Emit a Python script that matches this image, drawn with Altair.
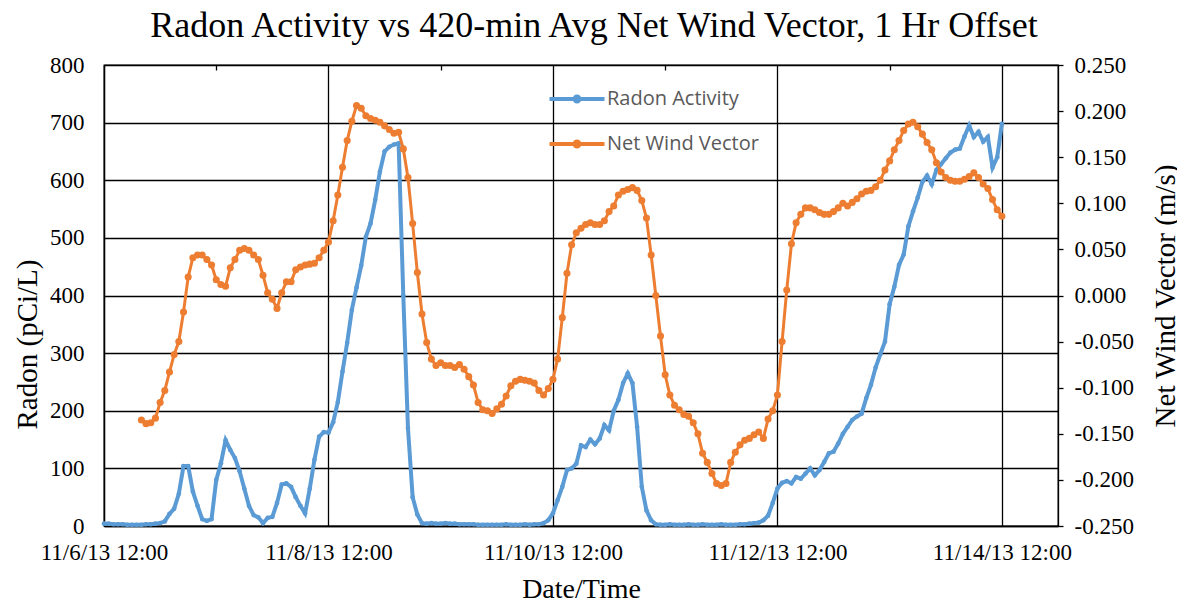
import altair as alt
import pandas as pd

# Hourly radon activity (pCi/L) starting 11/6/13 12:00
radon = [4, 4, 3, 3, 3, 2, 2, 2, 2, 3, 3, 4, 5,
         8, 21, 30, 56, 104, 104, 60, 35, 12, 9, 12, 80,
         109, 149, 132, 118, 95, 65, 35, 19, 15, 5, 14, 16,
         40, 72, 74, 68, 50, 35, 22, 65, 115, 155, 163, 162,
         180, 215, 268, 318, 375, 414, 452, 502, 525, 566, 615, 650,
         658, 662, 664, 400, 170, 50, 20, 5, 4, 5, 4, 4,
         5, 4, 4, 3, 3, 3, 3, 2, 2, 2, 2, 2,
         2, 3, 2, 2, 2, 3, 2, 3, 3, 5, 10, 22,
         45, 68, 97, 100, 108, 140, 137, 150, 142, 152, 175, 166,
         200, 219, 248, 265, 248, 172, 68, 27, 10, 3, 2, 2,
         3, 2, 2, 2, 3, 2, 2, 3, 2, 2, 2, 3,
         2, 2, 2, 3, 3, 4, 5, 6, 10, 18, 40, 65,
         75, 78, 74, 85, 82, 91, 100, 88, 97, 111, 126, 129,
         143, 160, 172, 184, 190, 195, 222, 245, 275, 298, 320, 385,
         415, 453, 471, 520, 546, 570, 597, 608, 593, 618, 628, 638,
         648, 653, 655, 676, 695, 675, 684, 667, 675, 622, 640, 698]

# Hourly 420-min avg net wind vector (m/s) starting 11/6/13 20:00
wind = [-0.135, -0.139, -0.138, -0.133, -0.116, -0.103, -0.083, -0.064, -0.050, -0.018, 0.020, 0.041,
        0.044, 0.044, 0.039, 0.033, 0.017, 0.012, 0.010, 0.030, 0.039, 0.049, 0.051, 0.049,
        0.044, 0.039, 0.022, 0.003, -0.004, -0.014, 0.003, 0.015, 0.015, 0.028, 0.031, 0.033,
        0.034, 0.035, 0.041, 0.049, 0.058, 0.081, 0.109, 0.139, 0.168, 0.189, 0.206, 0.203,
        0.195, 0.192, 0.190, 0.188, 0.184, 0.180, 0.176, 0.177, 0.159, 0.128, 0.078, 0.025,
        -0.020, -0.051, -0.069, -0.076, -0.073, -0.076, -0.076, -0.078, -0.075, -0.080, -0.088, -0.097,
        -0.116, -0.124, -0.125, -0.128, -0.123, -0.118, -0.109, -0.098, -0.093, -0.091, -0.092, -0.093,
        -0.095, -0.103, -0.108, -0.101, -0.091, -0.069, -0.024, 0.024, 0.055, 0.068, 0.073, 0.077,
        0.079, 0.077, 0.077, 0.081, 0.091, 0.097, 0.109, 0.113, 0.115, 0.117, 0.114, 0.103,
        0.084, 0.044, 0.000, -0.044, -0.086, -0.108, -0.119, -0.124, -0.129, -0.131, -0.138, -0.150,
        -0.171, -0.181, -0.193, -0.204, -0.206, -0.204, -0.181, -0.170, -0.162, -0.157, -0.155, -0.151,
        -0.148, -0.155, -0.134, -0.125, -0.108, -0.050, 0.006, 0.056, 0.079, 0.088, 0.095, 0.095,
        0.093, 0.090, 0.088, 0.088, 0.091, 0.095, 0.100, 0.097, 0.101, 0.105, 0.110, 0.113,
        0.114, 0.118, 0.125, 0.136, 0.146, 0.158, 0.168, 0.179, 0.186, 0.188, 0.183, 0.175,
        0.166, 0.158, 0.144, 0.134, 0.128, 0.125, 0.124, 0.124, 0.126, 0.129, 0.133, 0.128,
        0.121, 0.116, 0.104, 0.093, 0.086]

series_names = ["Radon Activity", "Net Wind Vector"]
series_colors = ["#5B9BD5", "#ED7D31"]
radon_ticks = [0, 100, 200, 300, 400, 500, 600, 700, 800]
wind_ticks = [-0.25, -0.2, -0.15, -0.1, -0.05, 0.0, 0.05, 0.1, 0.15, 0.2, 0.25]
major_days = [6, 8, 10, 12, 14]
minor_days = [7, 9, 11, 13]

start = pd.Timestamp("2013-11-06 12:00")
df_r = pd.DataFrame({"time": pd.date_range(start, periods=len(radon), freq="h"),
                     "radon": radon, "series": series_names[0]})
df_w = pd.DataFrame({"time": pd.date_range(start + pd.Timedelta(hours=8), periods=len(wind), freq="h"),
                     "wind": wind, "series": series_names[1]})

SERIF = "Liberation Serif"
SANS = "Open Sans"

major_ticks = [alt.DateTime(year=2013, month=11, date=d, hours=12) for d in major_days]
minor_ticks = [alt.DateTime(year=2013, month=11, date=d, hours=12) for d in minor_days]
xscale = alt.Scale(domain=[alt.DateTime(year=2013, month=11, date=6, hours=12),
                           alt.DateTime(year=2013, month=11, date=15, hours=0)], nice=False)
cscale = alt.Scale(domain=series_names, range=series_colors)

legend_path = "M-2.5,0H2.5M0.22,0A0.22,0.22,0,1,1,-0.22,0A0.22,0.22,0,1,1,0.22,0"

radon_layer = alt.Chart(df_r).mark_line(
    strokeWidth=4, point=alt.OverlayMarkDef(size=22, filled=True, opacity=1)
).encode(
    x=alt.X("time:T", scale=xscale, axis=alt.Axis(
        values=major_ticks, format="%-m/%-d/%y %H:%M", title="Date/Time",
        grid=True, gridColor="black", gridWidth=1.3, gridOpacity=1,
        ticks=False, domain=True, domainColor="black", domainWidth=1.3,
        labelFont=SERIF, labelFontSize=23, labelColor="black", labelPadding=15,
        labelOverlap=False, labelFlush=False,
        titleFont=SERIF, titleFontSize=28, titleFontWeight="normal", titleColor="black",
        titleY=63, titleBaseline="middle")),
    y=alt.Y("radon:Q", scale=alt.Scale(domain=[0, 800], nice=False, zero=False), axis=alt.Axis(
        values=radon_ticks, title="Radon (pCi/L)",
        grid=True, gridColor="black", gridWidth=1.3, gridOpacity=1,
        ticks=False, domain=True, domainColor="black", domainWidth=1.3,
        labelFont=SERIF, labelFontSize=23, labelColor="black", labelPadding=20,
        titleFont=SERIF, titleFontSize=29, titleFontWeight="normal", titleColor="black",
        titleX=-77, titleY=279, titleBaseline="middle", titleAngle=270)),
    color=alt.Color("series:N", scale=cscale, legend=alt.Legend(
        title=None, orient="none", legendX=460, legendY=21, direction="vertical",
        symbolType=legend_path, symbolSize=484, symbolStrokeWidth=4,
        labelFont=SANS, labelFontSize=20, labelColor="#595959", labelOffset=17,
        rowPadding=21, padding=0)),
)

wind_layer = alt.Chart(df_w).mark_line(
    strokeWidth=3, point=alt.OverlayMarkDef(size=50, filled=True, opacity=1)
).encode(
    x=alt.X("time:T", scale=xscale, axis=alt.Axis(
        values=minor_ticks, labels=False, title=None, grid=False, domain=False,
        ticks=True, tickSize=5, tickColor="black", tickWidth=1.3, offset=-5)),
    y=alt.Y("wind:Q", scale=alt.Scale(domain=[-0.25, 0.25], nice=False, zero=False), axis=alt.Axis(
        orient="right", values=wind_ticks,
        labelExpr="(datum.value < -0.0001 ? '-' : '') + format(abs(datum.value), '.3f')",
        grid=False, ticks=True, tickSize=5, tickColor="black", tickWidth=1.3,
        domain=True, domainColor="black", domainWidth=1.3,
        labelFont=SERIF, labelFontSize=23, labelColor="black", labelAlign="left", labelPadding=11,
        title="Net Wind Vector (m/s)",
        titleFont=SERIF, titleFontSize=29, titleFontWeight="normal", titleColor="black",
        titleX=107, titleBaseline="middle", titleAngle=270)),
    color=alt.Color("series:N", scale=cscale),
)

chart = alt.layer(radon_layer, wind_layer).resolve_scale(
    y="independent"
).resolve_axis(
    x="independent"
).properties(
    width=954, height=461,
    autosize=alt.AutoSizeParams(type="none"),
    padding={"left": 96, "top": 57, "right": 119, "bottom": 72},
    title=alt.TitleParams(
        "Radon Activity vs 420-min Avg Net Wind Vector, 1 Hr Offset",
        font=SERIF, fontSize=36, fontWeight="normal", color="black",
        anchor="middle", dx=13, offset=9),
).configure_view(stroke="black", strokeWidth=1.3)

chart.save("out.html", embed_options={"renderer": "svg", "actions": False})
